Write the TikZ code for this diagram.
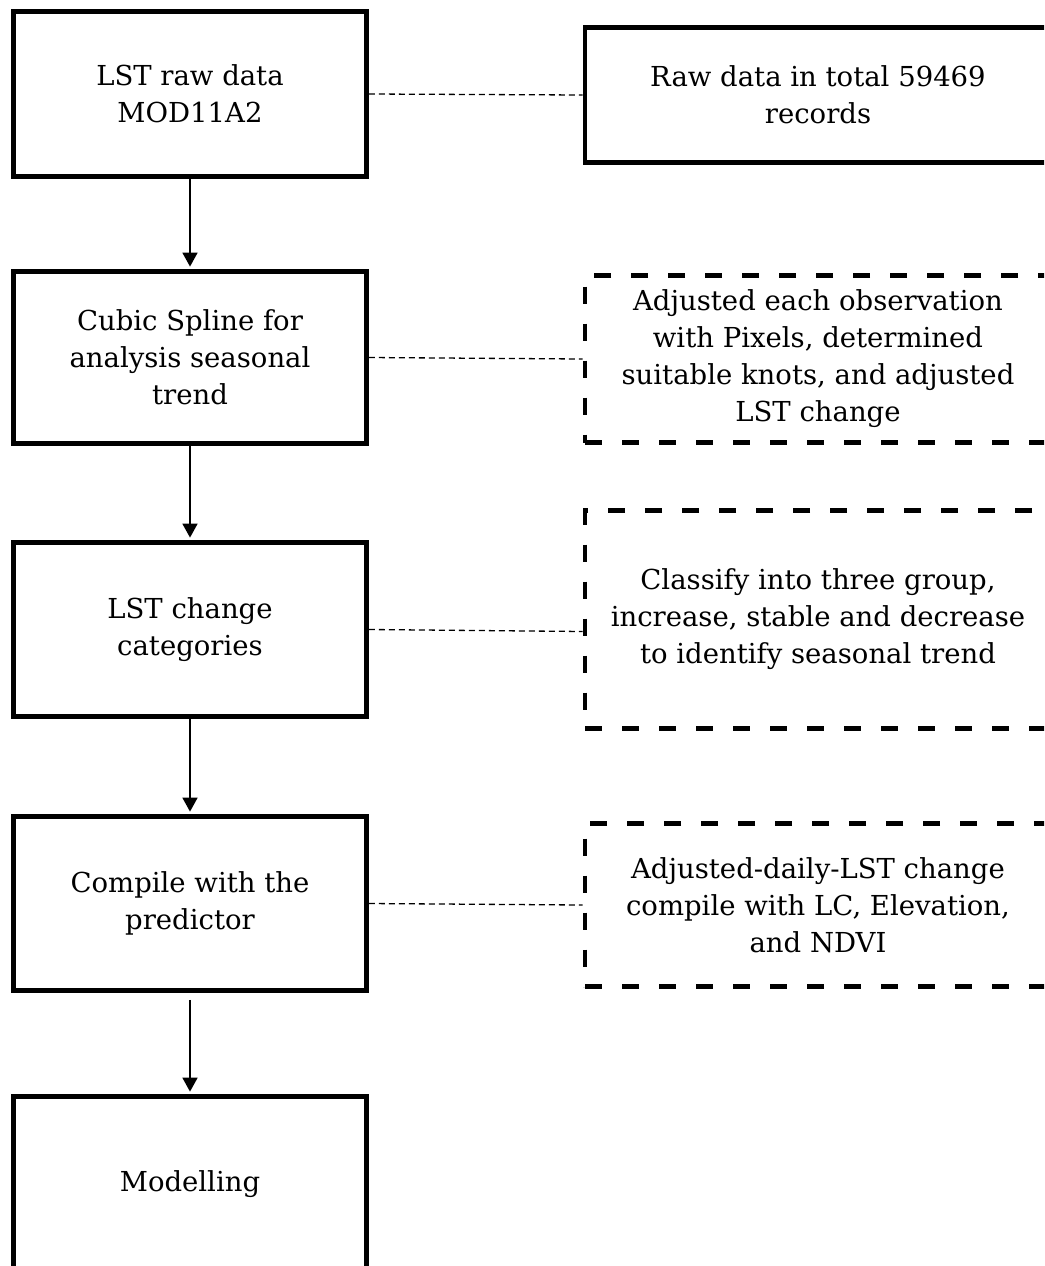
\documentclass[tikz,border=0pt]{standalone}
\usepackage{fontspec}
\setmainfont{DejaVu Serif}
\usetikzlibrary{arrows.meta}
\begin{document}
\begin{tikzpicture}[x=1pt,y=1pt,
  txt/.style={font=\fontsize{27.5}{37}\selectfont, align=center, inner sep=0pt},
  mainbox/.style={txt, draw, line width=4.8pt, minimum width=353pt},
  sidebox/.style={txt, draw, line width=4.8pt, minimum width=466pt},
  dashbox/.style={sidebox, dash pattern=on 17pt off 20pt},
  flow/.style={line width=1.8pt, -{Triangle[width=15pt,length=14pt]}, shorten >=2.5pt},
  link/.style={line width=1.3pt, dash pattern=on 6pt off 4pt}]
\useasboundingbox (0,0) rectangle (1044,-1266);
\clip (0,0) rectangle (1044,-1266);
\node[mainbox, minimum height=165pt] (b1) at (190,-94) {LST raw data\\MOD11A2};
\node[mainbox, minimum height=172pt] (b2) at (190,-357.5) {Cubic Spline for\\analysis seasonal\\trend};
\node[mainbox, minimum height=174pt] (b3) at (190,-629.5) {LST change\\categories};
\node[mainbox, minimum height=174pt] (b4) at (190,-903.5) {Compile with the\\predictor};
\node[mainbox, minimum height=175pt] (b5) at (190,-1184) {Modelling};
\node[sidebox, minimum height=135pt] (r1) at (818,-95) {Raw data in total 59469\\records};
\node[dashbox, minimum height=167pt] (r2) at (818,-359) {Adjusted each observation\\with Pixels, determined\\suitable knots, and adjusted\\LST change};
\node[dashbox, minimum height=218pt] (r3) at (818,-619.5) {Classify into three group,\\increase, stable and decrease\\to identify seasonal trend};
\node[dashbox, minimum height=163pt] (r4) at (818,-905) {Adjusted-daily-LST change\\compile with LC, Elevation,\\and NDVI};
\draw[flow] (b1.south) -- (b2.north);
\draw[flow] (b2.south) -- (b3.north);
\draw[flow] (b3.south) -- (b4.north);
\draw[flow, shorten <=7pt] (b4.south) -- (b5.north);
\draw[link] (b1.east) -- (r1.west);
\draw[link] (b2.east) -- (r2.west);
\draw[link] (b3.east) -- ([yshift=-12pt]r3.west);
\draw[link] (b4.east) -- (r4.west);
\end{tikzpicture}
\end{document}
